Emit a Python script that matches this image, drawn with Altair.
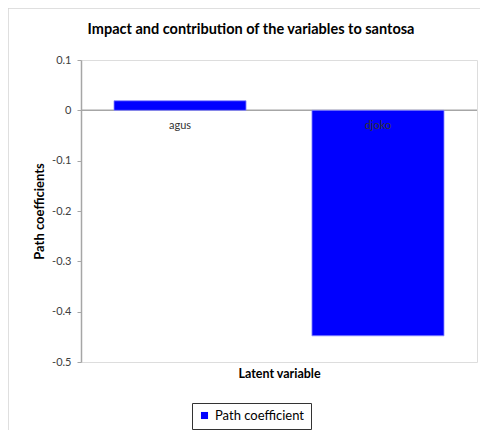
import altair as alt
import pandas as pd

categories = ["agus", "djoko"]
coefficients = [0.019, -0.448]
series_name = "Path coefficient"
y_ticks = [0.1, 0.0, -0.1, -0.2, -0.3, -0.4, -0.5]
title_text = "Impact and contribution of the variables to santosa"

df = pd.DataFrame({"var": categories, "coef": coefficients, "series": [series_name] * len(categories)})
one = pd.DataFrame({"t": [title_text]})

W, H = 396, 302
FONT = "Lato"
GRAY = "#a6a6a6"

xscale = alt.Scale(domain=categories, paddingInner=0.333, paddingOuter=0.1667)
yscale = alt.Scale(domain=[-0.5, 0.1], nice=False, zero=False)

base = alt.Chart(df)

zero_line = alt.Chart(one).mark_rule(color=GRAY, strokeWidth=1.5).encode(
    x=alt.value(0), x2=alt.value(W), y=alt.datum(0, scale=yscale)
)

bars = base.mark_bar(stroke="#8c8cff", strokeWidth=0.8).encode(
    x=alt.X("var:N", scale=xscale,
            axis=alt.Axis(labels=False, ticks=False, domain=False, title="Latent variable",
                          titleFontWeight="bold", titleFontSize=12.5, titleFont=FONT,
                          titleColor="#000", titlePadding=5)),
    y=alt.Y("coef:Q", scale=yscale,
            axis=alt.Axis(values=y_ticks, labelExpr="toString(round(datum.value*10)/10)",
                          tickSize=4, tickColor=GRAY, domainColor=GRAY, domainWidth=1.5,
                          labelFontSize=11, labelFont=FONT, labelColor="#404040", labelPadding=6,
                          grid=False, title="Path coefficients", titleFontWeight="bold",
                          titleFontSize=13, titleFont=FONT, titleColor="#000", titlePadding=5)),
    color=alt.Color("series:N", scale=alt.Scale(domain=[series_name], range=["#0000ff"]),
                    legend=alt.Legend(orient="none", legendX=111, legendY=343, title=None,
                                      symbolType="square", symbolSize=50, symbolStrokeWidth=0,
                                      labelFontSize=13, labelFont=FONT, labelColor="#000",
                                      padding=6, strokeColor="#333", labelOffset=4)),
)

labels = base.mark_text(fontSize=11, font=FONT, color="#333", baseline="middle", dy=16).encode(
    x=alt.X("var:N", scale=xscale), y=alt.datum(0, scale=yscale), text="var:N"
)

title = alt.Chart(one).mark_text(fontSize=14.5, font=FONT, fontWeight="bold", color="#000",
                                 baseline="middle", align="center").encode(
    x=alt.value(W / 2 - 28), y=alt.value(-30), text="t:N"
)

border_top = alt.Chart(one).mark_rule(color="#d4d4d4", strokeWidth=1.5).encode(
    x=alt.value(-73), x2=alt.value(W + 10), y=alt.value(-52)
)
border_left = alt.Chart(one).mark_rule(color="#d4d4d4", strokeWidth=1.5).encode(
    x=alt.value(-73), y=alt.value(-52), y2=alt.value(H + 80)
)

chart = alt.layer(border_top, border_left, zero_line, bars, labels, title).properties(
    width=W, height=H,
    autosize=alt.AutoSizeParams(type="none"),
    padding={"left": 73, "top": 52, "right": 3, "bottom": 68},
).configure_view(stroke=GRAY, strokeWidth=1.5).configure(background="white")

chart.save("out.html", embed_options={"renderer": "svg", "actions": False})
